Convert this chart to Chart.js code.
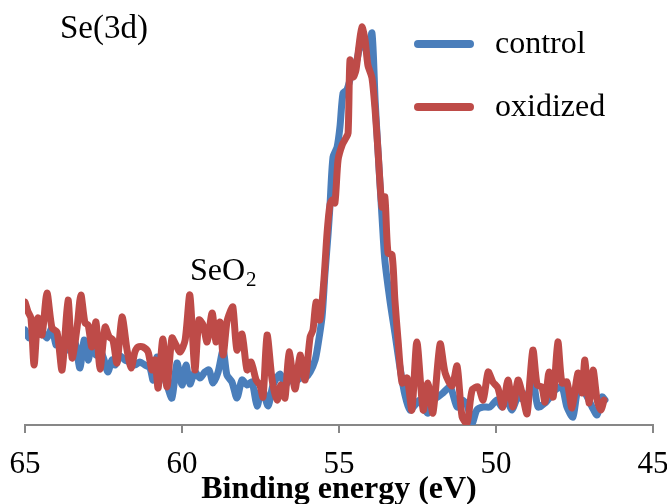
<!DOCTYPE html>
<html>
<head>
<meta charset="utf-8">
<script src="https://cdn.jsdelivr.net/npm/chart.js@4.4.0/dist/chart.umd.min.js"></script>
<style>
  body { margin: 0; background: #fff; }
  canvas { display: block; }
</style>
</head>
<body>
<canvas id="chart" width="667" height="504"></canvas>
<script>
// Se(3d) XPS spectra, binding energy in eV, intensity in arbitrary units
var controlEnergy = [65.00, 64.87, 64.75, 64.62, 64.46, 64.30, 64.14, 64.01, 63.89, 63.76,
  63.63, 63.50, 63.38, 63.25, 63.12, 62.99, 62.87, 62.74, 62.61, 62.48,
  62.36, 62.23, 62.13, 61.97, 61.82, 61.66, 61.50, 61.34, 61.18, 61.02,
  60.92, 60.80, 60.64, 60.48, 60.32, 60.16, 60.00, 59.87, 59.75, 59.59,
  59.43, 59.27, 59.14, 59.01, 58.85, 58.69, 58.57, 58.41, 58.25, 58.09,
  57.93, 57.77, 57.61, 57.45, 57.26, 57.10, 56.88, 56.72, 56.56, 56.40,
  56.24, 56.08, 55.92, 55.76, 55.67, 55.54, 55.45, 55.35, 55.29, 55.19,
  55.06, 54.97, 54.87, 54.75, 54.59, 54.43, 54.27, 54.17, 54.08, 53.95,
  53.85, 53.76, 53.63, 53.54, 53.38, 53.22, 53.06, 52.90, 52.74, 52.58,
  52.42, 52.26, 52.17, 52.01, 51.85, 51.69, 51.46, 51.24, 51.08, 50.92,
  50.76, 50.61, 50.41, 50.19, 49.97, 49.81, 49.65, 49.49, 49.30, 49.08,
  48.82, 48.66, 48.44, 48.28, 48.12, 47.90, 47.74, 47.55, 47.39, 47.17,
  46.94, 46.78, 46.62, 46.53];
var controlCounts = [95, 87, 95, 90, 93, 87, 97, 80, 85, 73,
  80, 90, 80, 57, 85, 65, 80, 70, 75, 65,
  53, 65, 60, 69, 65, 63, 60, 63, 60, 57,
  45, 68, 55, 40, 27, 62, 40, 60, 41, 53,
  47, 53, 55, 42, 53, 75, 50, 43, 27, 45,
  40, 43, 19, 37, 19, 40, 51, 40, 45, 43,
  47, 47, 53, 65, 80, 108, 150, 190, 218, 268,
  278, 298, 332, 335, 352, 365, 388, 378, 372, 392,
  325, 275, 208, 165, 125, 92, 58, 30, 15, 20,
  25, 15, 12, 25, 28, 32, 38, 18, 25, 20,
  2, 15, 18, 18, 25, 18, 25, 15, 28, 25,
  42, 18, 22, 28, 35, 38, 18, 8, 35, 32,
  18, 10, 28, 25];

var oxidizedEnergy = [65.00, 64.90, 64.81, 64.71, 64.59, 64.46, 64.30, 64.14, 63.98, 63.82,
  63.63, 63.50, 63.34, 63.22, 63.09, 62.99, 62.87, 62.74, 62.61, 62.45,
  62.32, 62.20, 62.07, 61.91, 61.75, 61.62, 61.50, 61.40, 61.24, 61.08,
  60.96, 60.86, 60.76, 60.61, 60.48, 60.32, 60.19, 60.06, 59.90, 59.75,
  59.59, 59.46, 59.33, 59.20, 59.04, 58.92, 58.79, 58.69, 58.57, 58.47,
  58.38, 58.25, 58.09, 57.93, 57.80, 57.64, 57.52, 57.42, 57.29, 57.13,
  56.97, 56.85, 56.72, 56.59, 56.40, 56.24, 56.08, 55.92, 55.83, 55.73,
  55.61, 55.48, 55.38, 55.29, 55.22, 55.13, 55.03, 54.90, 54.78, 54.71,
  54.65, 54.55, 54.46, 54.36, 54.27, 54.17, 54.08, 53.95, 53.85, 53.76,
  53.63, 53.54, 53.44, 53.31, 53.22, 53.12, 52.99, 52.83, 52.68, 52.52,
  52.32, 52.17, 52.01, 51.78, 51.62, 51.40, 51.24, 51.08, 50.92, 50.76,
  50.57, 50.41, 50.25, 50.10, 49.94, 49.78, 49.62, 49.46, 49.30, 49.17,
  49.01, 48.92, 48.82, 48.69, 48.54, 48.44, 48.31, 48.18, 48.03, 47.90,
  47.74, 47.58, 47.39, 47.26, 47.17, 47.04, 46.91, 46.78, 46.66, 46.56];
var oxidizedCounts = [123, 113, 107, 60, 107, 90, 132, 97, 93, 55,
  125, 67, 98, 130, 102, 100, 78, 103, 56, 98,
  88, 85, 62, 108, 75, 57, 73, 78, 78, 73,
  55, 65, 37, 86, 38, 87, 80, 73, 85, 130,
  55, 105, 100, 83, 112, 83, 103, 70, 103, 113,
  118, 75, 91, 55, 63, 45, 40, 28, 90, 45,
  25, 40, 27, 73, 36, 70, 45, 88, 95, 123,
  105, 145, 192, 220, 225, 222, 265, 280, 287, 292,
  365, 348, 355, 380, 398, 385, 360, 347, 315, 275,
  218, 228, 172, 170, 125, 85, 42, 47, 15, 83,
  15, 42, 12, 81, 52, 39, 59, 8, 2, 35,
  38, 25, 53, 43, 37, 18, 45, 18, 45, 32,
  11, 45, 75, 40, 38, 23, 53, 28, 83, 42,
  43, 17, 52, 32, 65, 22, 55, 25, 15, 25];

var xTicks = [65, 60, 55, 50, 45];

var blue = '#4A7EBB';
var red = '#BE4B48';
var serif = '"Liberation Serif", "Times New Roman", serif';

function points(xs, ys) {
  var out = [];
  for (var i = 0; i < xs.length; i++) {
    out.push({ x: xs[i], y: ys[i] });
  }
  return out;
}

// labels drawn on top: Se(3d), SeO2 and the legend
var notes = {
  id: 'notes',
  afterDraw: function (chart) {
    var ctx = chart.ctx;
    ctx.save();
    ctx.fillStyle = '#000';
    ctx.textBaseline = 'alphabetic';
    ctx.font = '33px ' + serif;
    ctx.fillText('Se(3d)', 60, 38);
    ctx.font = '32px ' + serif;
    ctx.fillText('SeO', 190, 280);
    var w = ctx.measureText('SeO').width;
    ctx.font = '21px ' + serif;
    ctx.fillText('2', 190 + w + 1, 286);

    var items = [[blue, 'control', 44], [red, 'oxidized', 107]];
    ctx.lineCap = 'round';
    ctx.lineWidth = 8;
    ctx.font = '32px ' + serif;
    ctx.textBaseline = 'middle';
    for (var i = 0; i < items.length; i++) {
      ctx.strokeStyle = items[i][0];
      ctx.beginPath();
      ctx.moveTo(418, items[i][2]);
      ctx.lineTo(470, items[i][2]);
      ctx.stroke();
      ctx.fillText(items[i][1], 495, items[i][2] + 1);
    }
    ctx.restore();
  }
};

new Chart(document.getElementById('chart'), {
  type: 'line',
  data: {
    datasets: [{
      label: 'control',
      data: points(controlEnergy, controlCounts),
      borderColor: blue,
      borderWidth: 7,
      order: 1
    }, {
      label: 'oxidized',
      data: points(oxidizedEnergy, oxidizedCounts),
      borderColor: red,
      borderWidth: 7,
      order: 0
    }]
  },
  options: {
    responsive: false,
    animation: false,
    layout: { padding: { left: 25, right: 14, top: 0, bottom: 0 } },
    elements: {
      point: { radius: 0 },
      line: { tension: 0.25, borderCapStyle: 'round', borderJoinStyle: 'round', fill: false }
    },
    plugins: { legend: { display: false }, tooltip: { enabled: false } },
    scales: {
      x: {
        type: 'linear',
        reverse: true,
        min: 45,
        max: 65,
        afterBuildTicks: function (scale) {
          scale.ticks = xTicks.map(function (v) { return { value: v }; });
        },
        afterFit: function (scale) {
          scale.height = 79;
          scale.paddingLeft = 0;
          scale.paddingRight = 0;
        },
        ticks: { color: '#000', font: { family: serif, size: 31 }, padding: 13, maxRotation: 0 },
        grid: { drawOnChartArea: false, drawTicks: true, tickLength: 8, color: '#878787', lineWidth: 2 },
        border: { color: '#878787', width: 2 },
        title: {
          display: true,
          text: 'Binding energy (eV)',
          color: '#000',
          font: { family: serif, size: 32, weight: 'bold', lineHeight: 1 },
          padding: { top: 0, bottom: -2 }
        }
      },
      y: { display: false, min: 0, max: 425 }
    }
  },
  plugins: [notes]
});
</script>
</body>
</html>
